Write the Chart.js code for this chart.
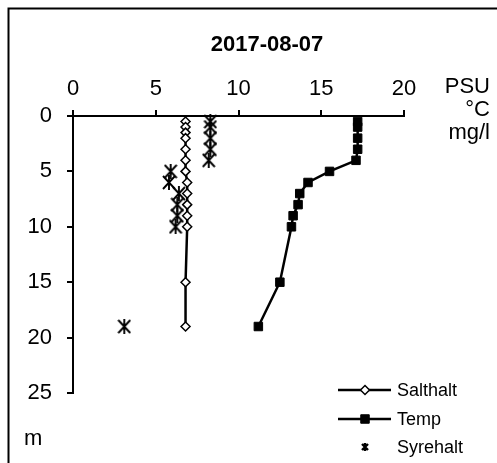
<!DOCTYPE html>
<html>
<head>
<meta charset="utf-8">
<script src="https://cdn.jsdelivr.net/npm/chart.js@4/dist/chart.umd.min.js"></script>
<style>
html,body{margin:0;padding:0;background:#fff;overflow:hidden}
canvas{display:block}
</style>
</head>
<body>
<canvas id="c" width="497" height="463"></canvas>
<script>
// --- data (depth in m, values in PSU / °C / mg/l) ---
const TITLE='2017-08-07';
const depthSalt=[0.5,1,1.5,2,3,4,5,6,7,8,9,10,15,19];
const salthalt =[6.8,6.8,6.8,6.8,6.8,6.8,6.8,6.9,6.9,6.9,6.9,6.9,6.8,6.8];
const depthTemp=[0.5,1,2,3,4,5,6,7,8,9,10,15,19];
const temp     =[17.2,17.2,17.2,17.2,17.1,15.5,14.2,13.7,13.6,13.3,13.2,12.5,11.2];
const depthSyre=[0.5,1,2,3,4,5,6,7,8,9,10,19];
const syrehalt =[8.3,8.3,8.3,8.3,8.2,5.9,5.8,6.4,6.3,6.3,6.2,3.1];
const seriesNames=['Salthalt','Temp','Syrehalt'];
const unitLabels=['PSU','°C','mg/l'];

const FONT="'Liberation Sans', Arial, sans-serif";
Chart.defaults.font.family=FONT;
Chart.defaults.color='#000';

function asterisk(w,h,lw){
  const c=document.createElement('canvas'); c.width=w; c.height=h;
  const g=c.getContext('2d');
  g.strokeStyle='#000'; g.lineWidth=lw;
  g.beginPath();
  g.moveTo(1,1); g.lineTo(w-1,h-1);
  g.moveTo(w-1,1); g.lineTo(1,h-1);
  g.moveTo(w/2,0); g.lineTo(w/2,h);
  g.stroke();
  return c;
}
const starBig=asterisk(14,15,1.9), starSmall=asterisk(8,8,2.4);

const pts=(ys,xs)=>ys.map((d,i)=>({x:xs[i],y:d}));

const extras={
  id:'extras',
  afterDraw(chart){
    const ctx=chart.ctx; ctx.save();
    // frame
    ctx.strokeStyle='#000'; ctx.lineWidth=2;
    ctx.beginPath(); ctx.moveTo(8.5,463); ctx.lineTo(8.5,8.5); ctx.lineTo(497,8.5); ctx.stroke();
    // title
    ctx.fillStyle='#000'; ctx.textAlign='center'; ctx.textBaseline='alphabetic';
    ctx.font='bold 22px '+FONT;
    ctx.fillText(TITLE,267,51);
    // units
    ctx.font='22px '+FONT;
    ctx.textAlign='right';
    [93,116,139].forEach((y,i)=>ctx.fillText(unitLabels[i],490,y));
    ctx.textAlign='left';
    ctx.fillText('m',24,445);
    // legend
    const ys=[390,419,447], x0=338, x1=391, xm=365;
    ctx.font='18px '+FONT;
    ctx.textBaseline='middle';
    chart.data.datasets.forEach((ds,i)=>{
      const y=ys[i];
      if(ds.showLine!==false){
        ctx.strokeStyle='#000'; ctx.lineWidth=ds.borderWidth;
        ctx.beginPath(); ctx.moveTo(x0,y); ctx.lineTo(x1,y); ctx.stroke();
      }
      if(i===2){ ctx.drawImage(starSmall,xm-4,y-4); }
      else{
        ctx.fillStyle=ds.pointBackgroundColor; ctx.strokeStyle=ds.pointBorderColor; ctx.lineWidth=ds.pointBorderWidth;
        Chart.helpers.drawPoint(ctx,{pointStyle:ds.pointStyle,radius:ds.pointRadius,borderWidth:ds.pointBorderWidth,rotation:0},xm,y);
      }
      ctx.fillStyle='#000';
      ctx.fillText(seriesNames[i],397,y+1);
    });
    ctx.restore();
  }
};

new Chart(document.getElementById('c'),{
  type:'scatter',
  data:{datasets:[
    {label:seriesNames[0],data:pts(depthSalt,salthalt),showLine:true,borderColor:'#000',borderWidth:2.5,
     pointStyle:'rectRot',pointRadius:4.5,pointBackgroundColor:'#fff',pointBorderColor:'#000',pointBorderWidth:1.5,clip:false},
    {label:seriesNames[1],data:pts(depthTemp,temp),showLine:true,borderColor:'#000',borderWidth:2.5,
     pointStyle:'rect',pointRadius:6,pointBackgroundColor:'#000',pointBorderColor:'#000',pointBorderWidth:1,clip:false},
    {label:seriesNames[2],data:pts(depthSyre,syrehalt),showLine:false,
     pointStyle:starBig,pointRadius:7,clip:false}
  ]},
  options:{
    responsive:false,animation:false,
    layout:{padding:{left:0,right:93,top:0,bottom:70}},
    plugins:{legend:{display:false},tooltip:{enabled:false},title:{display:false}},
    scales:{
      x:{type:'linear',position:'top',min:0,max:20,
         ticks:{stepSize:5,color:'#000',font:{size:22},padding:8},
         grid:{drawOnChartArea:false,tickLength:6,color:'#000',lineWidth:2},
         border:{color:'#000',width:2},
         afterFit(s){s.height=116;}},
      y:{type:'linear',reverse:true,min:0,max:25,
         ticks:{stepSize:5,color:'#000',font:{size:22},padding:15},
         grid:{drawOnChartArea:false,tickLength:6,color:'#000',lineWidth:2},
         border:{color:'#000',width:2},
         afterFit(s){s.width=73;}}
    }
  },
  plugins:[extras]
});
</script>
</body>
</html>
